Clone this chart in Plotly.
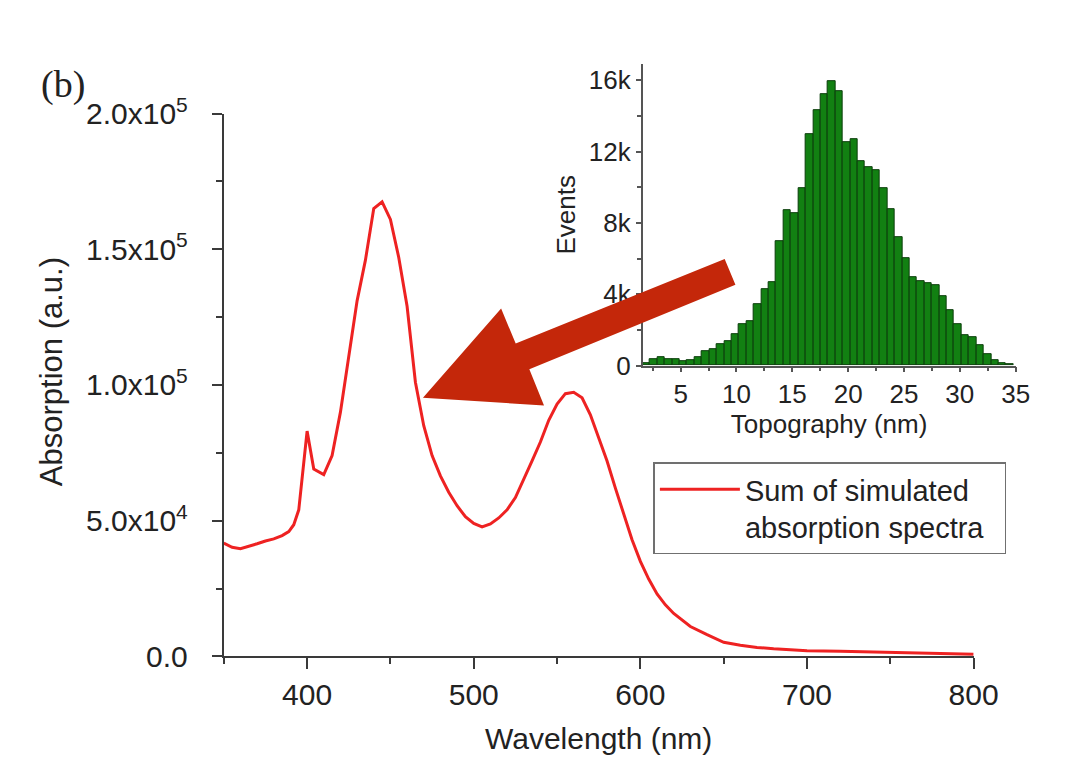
import plotly.graph_objects as go

# ---------------- data ----------------
wavelength_nm = [350, 355, 360, 365, 370, 375, 380, 385, 389, 392, 395, 400, 404, 410,
                 415, 420, 425, 430, 435, 440, 445, 450, 455, 460, 465, 470, 475, 480,
                 485, 490, 495, 500, 505, 510, 515, 520, 525, 530, 535, 540, 545, 550,
                 555, 560, 565, 570, 575, 580, 585, 590, 595, 600, 605, 610, 615, 620,
                 630, 640, 650, 660, 670, 680, 700, 720, 740, 760, 780, 800]
absorption = [41700, 40200, 39700, 40500, 41500, 42500, 43300, 44500, 46000, 48500, 54000,
              83000, 69000, 67000, 74000, 90000, 111000, 131000, 146000, 165000, 167500,
              161000, 147000, 129000, 101000, 85000, 74000, 66500, 60500, 55500, 51500,
              49000, 47700, 48800, 51000, 54000, 58500, 65000, 72000, 79000, 87000, 93000,
              96800, 97300, 95300, 89000, 80500, 72000, 62000, 52500, 43000, 35000, 28500,
              23000, 19000, 15800, 11000, 8000, 5200, 4100, 3300, 2800, 2100, 1900, 1700,
              1400, 1100, 800]

topo_bin_start = 1.6
topo_bin_width = 0.664
topo_events = [150, 370, 460, 360, 360, 250, 280, 460, 780, 900, 1200, 1350, 1740, 2330,
               2500, 3450, 4280, 4680, 6950, 8700, 8530, 9970, 13000, 14300, 15200, 15960,
               15400, 12500, 12700, 11450, 11130, 10950, 9920, 8780, 7200, 6000, 4940, 4730,
               4590, 4500, 3880, 3130, 2310, 1710, 1600, 1120, 640, 320, 140, 70]
topo_centers = [round(topo_bin_start + (i + 0.5) * topo_bin_width, 3) for i in range(len(topo_events))]

main_xticks = [400, 500, 600, 700, 800]
main_xminor = [350, 450, 550, 650, 750]
main_yticks = [0, 50000, 100000, 150000, 200000]
main_yticktext = ["0.0", "5.0x10<sup>4</sup>", "1.0x10<sup>5</sup>", "1.5x10<sup>5</sup>", "2.0x10<sup>5</sup>"]
main_yminor = [25000, 75000, 125000, 175000]
inset_xticks = [5, 10, 15, 20, 25, 30, 35]
inset_xminor = [2.5, 7.5, 12.5, 17.5, 22.5, 27.5, 32.5]
inset_yticks = [0, 4000, 8000, 12000, 16000]
inset_yticktext = ["0", "4k", "8k", "12k", "16k"]
inset_yminor = [2000, 6000, 10000, 14000]

# ---------------- layout helpers ----------------
# the page places the figure at (OX, OY) inside the 1067x777 window
OX, OY = 8, 8
FW, FH = 1059, 769
def px(x):
    return (x - OX) / FW
def py(y):
    return 1 - (y - OY) / FH

FONT = "Liberation Sans, Arial, sans-serif"
AX = "#3a3a3a"
TXT = "#222222"

fig = go.Figure()
fig.add_trace(go.Scatter(
    x=wavelength_nm, y=absorption, mode="lines",
    line=dict(color="#EE2222", width=3),
    name="Sum of simulated<br>absorption spectra&nbsp;&nbsp;",
    xaxis="x", yaxis="y", showlegend=True))

fig.add_trace(go.Bar(
    x=topo_centers, y=topo_events, width=topo_bin_width,
    marker=dict(color="#128012", line=dict(color="#0A3E0A", width=1)),
    xaxis="x2", yaxis="y2", showlegend=False, name="Events"))

fig.update_layout(
    width=FW, height=FH,
    margin=dict(l=0, r=0, t=0, b=0),
    paper_bgcolor="white", plot_bgcolor="rgba(0,0,0,0)",
    font=dict(family=FONT, color=TXT),
    bargap=0,
    xaxis=dict(domain=[px(229), px(997)], range=[350, 800], anchor="y",
               showline=True, linecolor=AX, linewidth=2, showgrid=False, zeroline=False,
               ticks="outside", ticklen=11, tickwidth=2, tickcolor=AX,
               tickmode="array", tickvals=main_xticks,
               minor=dict(tickmode="array", tickvals=main_xminor, ticks="outside",
                          ticklen=6, tickwidth=2, tickcolor=AX),
               tickfont=dict(size=30, color=TXT),
               title=dict(text="Wavelength (nm)", font=dict(size=30, color=TXT), standoff=18)),
    yaxis=dict(domain=[py(668), py(97)], range=[0, 200000], anchor="x",
               showline=True, linecolor=AX, linewidth=2, showgrid=False, zeroline=False,
               ticks="outside", ticklen=10, tickwidth=2, tickcolor=AX,
               tickmode="array", tickvals=main_yticks, ticktext=main_yticktext,
               ticklabelstandoff=18,
               minor=dict(tickmode="array", tickvals=main_yminor, ticks="outside",
                          ticklen=6, tickwidth=2, tickcolor=AX),
               tickfont=dict(size=30, color=TXT)),
    xaxis2=dict(domain=[px(658), px(1040)], range=[topo_bin_start, 35], anchor="y2",
                showline=True, linecolor="#555555", linewidth=1.5, showgrid=False, zeroline=False,
                ticks="outside", ticklen=5, tickwidth=1.5, tickcolor="#555555",
                tickmode="array", tickvals=inset_xticks,
                minor=dict(tickmode="array", tickvals=inset_xminor, ticks="outside",
                           ticklen=4, tickwidth=1.5, tickcolor="#555555"),
                tickfont=dict(size=26, color=TXT),
                title=dict(text="Topography (nm)", font=dict(size=26, color=TXT), standoff=6)),
    yaxis2=dict(domain=[py(362), py(45)], range=[0, 16900], anchor="x2",
                showline=True, linecolor="#555555", linewidth=1.5, showgrid=False, zeroline=False,
                ticks="outside", ticklen=5, tickwidth=1.5, tickcolor="#555555",
                tickmode="array", tickvals=inset_yticks, ticktext=inset_yticktext,
                minor=dict(tickmode="array", tickvals=inset_yminor, ticks="outside",
                           ticklen=4, tickwidth=1.5, tickcolor="#555555"),
                tickfont=dict(size=26, color=TXT),
                title=dict(text="Events", font=dict(size=26, color=TXT), standoff=6)),
    legend=dict(x=px(669), y=py(464), xanchor="left", yanchor="top",
                bordercolor="#707070", borderwidth=1.5, bgcolor="white",
                font=dict(size=29, color=TXT), valign="top", itemwidth=80),
)

# y-axis title of the main panel (placed slightly above the axis centre, as in the original)
fig.add_annotation(text="Absorption (a.u.)", xref="paper", yref="paper", x=px(52), y=py(368),
                   xanchor="center", yanchor="middle", textangle=-90, showarrow=False,
                   font=dict(size=31, color=TXT))

# big red arrow pointing from the inset to the main peak
arrow_px = [(433, 396), (513, 302), (528, 339), (742, 250), (753, 277), (542, 366), (557, 404)]
path = "M " + " L ".join(f"{px(a):.4f},{py(b):.4f}" for a, b in arrow_px) + " Z"
fig.add_shape(type="path", xref="paper", yref="paper", path=path,
              fillcolor="#C4270A", line=dict(width=0), layer="above")

# panel label
fig.add_annotation(text="(b)", xref="paper", yref="paper", x=px(40), y=py(42),
                   xanchor="left", yanchor="top", showarrow=False,
                   font=dict(family="Liberation Serif, Times New Roman, serif", size=38, color=TXT))

fig.write_html("out.html")
